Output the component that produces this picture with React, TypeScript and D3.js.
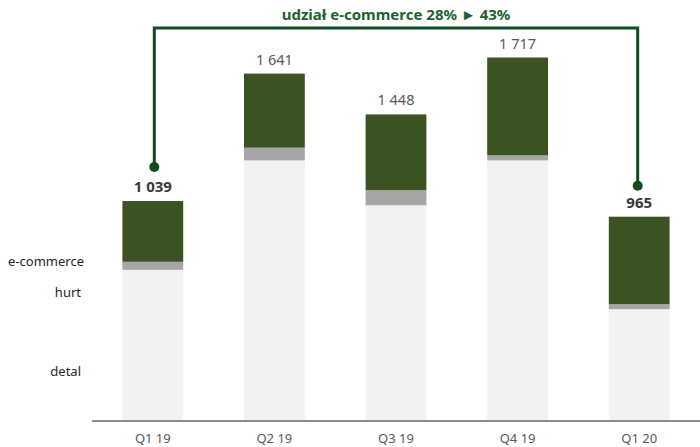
import React from "react";
import * as d3 from "d3";

const categories = ["Q1 19", "Q2 19", "Q3 19", "Q4 19", "Q1 20"];
const detal = [714, 1231, 1019, 1231, 528];
const hurt = [38, 60, 71, 24, 24];
const ecommerce = [287, 350, 358, 462, 413];
const totals = [1039, 1641, 1448, 1717, 965];
const totalLabels = ["1 039", "1 641", "1 448", "1 717", "965"];
const seriesNames = ["detal", "hurt", "e-commerce"];
const annotation = "udział e-commerce 28% ► 43%";

const W = 700;
const H = 447;
const FONT = "'Segoe UI', 'Noto Sans', 'Open Sans', sans-serif";
const colors: Record<string, string> = {
  detal: "#f2f2f2",
  hurt: "#a6a6a6",
  "e-commerce": "#3b5323",
};

export default function App() {
  const x = d3
    .scaleBand<string>()
    .domain(categories)
    .range([92, 700])
    .paddingInner(0.5)
    .paddingOuter(0.25);
  const baseY = 421;
  const y = d3.scaleLinear().domain([0, 1717]).range([baseY, 57.5]);

  const rows = categories.map((c, i) => ({
    cat: c,
    detal: detal[i],
    hurt: hurt[i],
    "e-commerce": ecommerce[i],
  }));
  const stack = d3.stack<any>().keys(seriesNames)(rows);

  const bw = x.bandwidth();
  const cx = (c: string) => (x(c) as number) + bw / 2;
  const firstX = cx(categories[0]) + 1.5;
  const lastX = cx(categories[4]) - 1.5;
  const dot1Y = y(totals[0]) - 34;
  const dot2Y = y(totals[4]) - 31;
  const topY = 28;
  const green = "#0f4d1f";

  return (
    <svg width={W} height={H} style={{ display: "block", position: "absolute", left: 0, top: 0 }} fontFamily={FONT}>
      <rect width={W} height={H} fill="#fff" />
      {stack.map((s) =>
        s.map((d, i) => (
          <rect
            key={s.key + i}
            x={x(categories[i])}
            y={y(d[1])}
            width={bw}
            height={y(d[0]) - y(d[1])}
            fill={colors[s.key]}
          />
        ))
      )}
      <line x1={92} x2={700} y1={baseY} y2={baseY} stroke="#8c8c8c" strokeWidth={2} />
      {categories.map((c) => (
        <text key={c} x={cx(c)} y={443} textAnchor="middle" fontSize={13} fill="#595959">
          {c}
        </text>
      ))}
      {categories.map((c, i) => {
        const bold = i === 0 || i === 4;
        return (
          <text
            key={"t" + c}
            x={cx(c)}
            y={y(totals[i]) - 9}
            textAnchor="middle"
            fontSize={bold ? 15 : 14.5}
            fontWeight={bold ? 700 : 400}
            fill={bold ? "#3a3a3a" : "#595959"}
          >
            {totalLabels[i]}
          </text>
        );
      })}
      <text x={84} y={266} textAnchor="end" fontSize={13} fill="#262626">e-commerce</text>
      <text x={81} y={297} textAnchor="end" fontSize={13} fill="#262626">hurt</text>
      <text x={81} y={376} textAnchor="end" fontSize={13} fill="#262626">detal</text>
      <path
        d={`M${firstX},${dot1Y} V${topY} H${lastX} V${dot2Y}`}
        fill="none"
        stroke={green}
        strokeWidth={3}
      />
      <circle cx={firstX} cy={dot1Y} r={5} fill={green} />
      <circle cx={lastX} cy={dot2Y} r={5} fill={green} />
      <text x={(firstX + lastX) / 2} y={20} textAnchor="middle" fontSize={15} fontWeight={700} fill="#1c6130">
        {annotation}
      </text>
    </svg>
  );
}
